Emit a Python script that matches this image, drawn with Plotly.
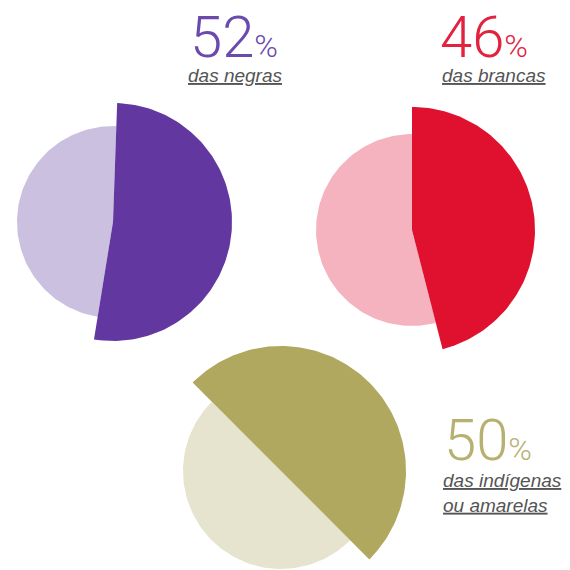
import numpy as np
import plotly.graph_objects as go

# Share of women in each group (percent)
groups = ["negras", "brancas", "indígenas ou amarelas"]
shares = [52, 46, 50]
captions = ["das negras", "das brancas", "das indígenas<br>ou amarelas"]

# Drawing geometry for each pie (pixel space, y grows downward)
centers = [(113, 222), (412, 230), (281, 471)]
r_big = [119, 123, 125]
r_small = [96, 96, 98]
rotations = [2, 0, -45]

dark = ["#6237A0", "#E0102F", "#B0A85E"]
light = ["#CBC0E0", "#F4B3BE", "#E6E4CF"]
text_col = ["#6B4AAE", "#E2223E", "#B8B070"]

# Number (box centre) and caption (top edge) placement
num_pos = [(188, 37), (438, 37), (442, 440)]
cap_pos = [(186, 63), (440, 63), (441, 468)]


def wedge(cx, cy, r, rot, f0, f1, n=240):
    """Polygon of a clockwise wedge from fraction f0 to f1 (0 = 12 o'clock)."""
    k = max(int(n * (f1 - f0)), 2)
    th = np.radians(rot + 360 * np.linspace(f0, f1, k))
    xs = np.concatenate([[cx], cx + r * np.sin(th), [cx]])
    ys = np.concatenate([[cy], cy - r * np.cos(th), [cy]])
    return xs, ys


fig = go.Figure()
for i, s in enumerate(shares):
    cx, cy = centers[i]
    frac = s / 100.0
    # remaining part, smaller radius
    xs, ys = wedge(cx, cy, r_small[i], rotations[i], frac, 1.0)
    fig.add_trace(go.Scatter(x=xs, y=ys, mode="lines", fill="toself",
                             fillcolor=light[i], line=dict(width=0),
                             hoverinfo="skip", showlegend=False))
    # highlighted share, larger radius
    xs, ys = wedge(cx, cy, r_big[i], rotations[i], 0.0, frac)
    fig.add_trace(go.Scatter(x=xs, y=ys, mode="lines", fill="toself",
                             fillcolor=dark[i], line=dict(width=0),
                             name=groups[i], hoverinfo="name",
                             showlegend=False))

    nx, ny = num_pos[i]
    fig.add_annotation(
        x=nx, y=ny, xref="x", yref="y", xanchor="left", yanchor="middle",
        height=46, valign="middle",
        text=f"{s}<span style='font-size:32px'>%</span>",
        showarrow=False,
        font=dict(family="Roboto", size=58, color=text_col[i], weight=300),
    )
    px_, py_ = cap_pos[i]
    fig.add_annotation(
        x=px_, y=py_, xref="x", yref="y", xanchor="left", yanchor="top",
        align="left",
        text=f"<i><u>{captions[i].replace('<br>', '</u></i><br><i><u>')}</u></i>",
        showarrow=False,
        font=dict(family="Liberation Sans", size=19, color="#555555"),
    )

fig.update_xaxes(range=[0, 570], visible=False, fixedrange=True)
fig.update_yaxes(range=[570, 0], visible=False, fixedrange=True)
fig.update_layout(
    width=570, height=570,
    margin=dict(l=0, r=0, t=0, b=0),
    paper_bgcolor="white", plot_bgcolor="white",
)

fig.write_html("out.html")
